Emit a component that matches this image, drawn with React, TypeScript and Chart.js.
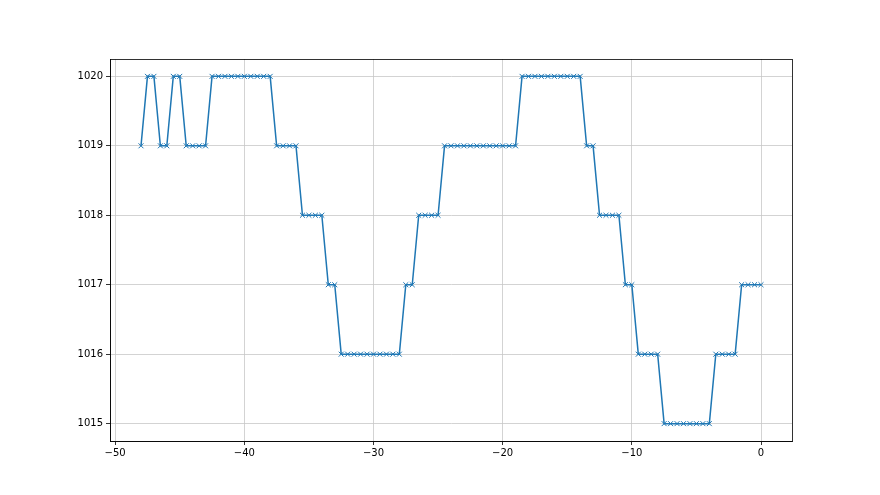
import React, { useEffect, useRef } from "react";
import { Chart, registerables } from "chart.js";

Chart.register(...registerables);

const xValues: number[] = [
  -48, -47.5, -47, -46.5, -46, -45.5, -45, -44.5, -44, -43.5, -43,
  -42.5, -42, -41.5, -41, -40.5, -40, -39.5, -39, -38.5, -38,
  -37.5, -37, -36.5, -36, -35.5, -35, -34.5, -34, -33.5, -33,
  -32.5, -32, -31.5, -31, -30.5, -30, -29.5, -29, -28.5, -28,
  -27.5, -27, -26.5, -26, -25.5, -25, -24.5, -24, -23.5, -23,
  -22.5, -22, -21.5, -21, -20.5, -20, -19.5, -19, -18.5, -18,
  -17.5, -17, -16.5, -16, -15.5, -15, -14.5, -14, -13.5, -13,
  -12.5, -12, -11.5, -11, -10.5, -10, -9.5, -9, -8.5, -8,
  -7.5, -7, -6.5, -6, -5.5, -5, -4.5, -4, -3.5, -3,
  -2.5, -2, -1.5, -1, -0.5, 0,
];

const pressure: number[] = [
  1019, 1020, 1020, 1019, 1019, 1020, 1020, 1019, 1019, 1019, 1019,
  1020, 1020, 1020, 1020, 1020, 1020, 1020, 1020, 1020, 1020,
  1019, 1019, 1019, 1019, 1018, 1018, 1018, 1018, 1017, 1017,
  1016, 1016, 1016, 1016, 1016, 1016, 1016, 1016, 1016, 1016,
  1017, 1017, 1018, 1018, 1018, 1018, 1019, 1019, 1019, 1019,
  1019, 1019, 1019, 1019, 1019, 1019, 1019, 1019, 1020, 1020,
  1020, 1020, 1020, 1020, 1020, 1020, 1020, 1020, 1019, 1019,
  1018, 1018, 1018, 1018, 1017, 1017, 1016, 1016, 1016, 1016,
  1015, 1015, 1015, 1015, 1015, 1015, 1015, 1015, 1016, 1016,
  1016, 1016, 1017, 1017, 1017, 1017,
];

const xTicks: number[] = [-50, -40, -30, -20, -10, 0];
const yTicks: number[] = [1015, 1016, 1017, 1018, 1019, 1020];

const frame = {
  id: "frame",
  afterDraw(chart: any) {
    const { ctx, chartArea } = chart;
    ctx.save();
    ctx.strokeStyle = "#000000";
    ctx.lineWidth = 0.8;
    ctx.strokeRect(
      Math.round(chartArea.left) + 0.5,
      Math.round(chartArea.top) + 0.5,
      Math.round(chartArea.right - chartArea.left),
      Math.round(chartArea.bottom - chartArea.top)
    );
    ctx.restore();
  },
};

export default function App() {
  const ref = useRef<HTMLCanvasElement | null>(null);

  useEffect(() => {
    document.body.style.margin = "0";
    const canvas = ref.current;
    if (!canvas) return;
    const data = xValues.map((x, i) => ({ x, y: pressure[i] }));
    const tickFont = { family: "DejaVu Sans", size: 10 };
    const chart = new Chart(canvas, {
      type: "line",
      data: {
        datasets: [
          {
            data,
            borderColor: "#1f77b4",
            backgroundColor: "#1f77b4",
            borderWidth: 1.5,
            pointStyle: "crossRot",
            pointRadius: 3.5,
            pointBorderWidth: 1,
            pointBorderColor: "#1f77b4",
            pointHoverRadius: 3.5,
            tension: 0,
            fill: false,
          },
        ],
      },
      options: {
        animation: false,
        responsive: false,
        maintainAspectRatio: false,
        events: [],
        layout: { padding: { left: 0, right: 88, top: 59, bottom: 0 } },
        plugins: {
          legend: { display: false },
          tooltip: { enabled: false },
        },
        scales: {
          x: {
            type: "linear",
            min: -50.4,
            max: 2.4,
            afterBuildTicks: (scale: any) => {
              scale.ticks = xTicks.map((v) => ({ value: v }));
            },
            afterFit: (scale: any) => {
              scale.height = 54;
            },
            grid: {
              color: "#c8c8c8",
              lineWidth: 0.8,
              tickColor: "#000000",
              tickLength: 4,
              drawTicks: true,
            },
            border: { display: true, color: "#000000", width: 0.8 },
            ticks: {
              color: "#000000",
              font: tickFont,
              padding: 2,
              maxRotation: 0,
              callback: (v: any) => (Number(v) < 0 ? "\u2212" + Math.abs(Number(v)) : String(v)),
            },
          },
          y: {
            type: "linear",
            min: 1014.75,
            max: 1020.25,
            afterBuildTicks: (scale: any) => {
              scale.ticks = yTicks.map((v) => ({ value: v }));
            },
            afterFit: (scale: any) => {
              scale.width = 110;
            },
            grid: {
              color: "#c8c8c8",
              lineWidth: 0.8,
              tickColor: "#000000",
              tickLength: 4,
              drawTicks: true,
            },
            border: { display: true, color: "#000000", width: 0.8 },
            ticks: {
              color: "#000000",
              font: tickFont,
              padding: 3,
              callback: (v: any) => String(v),
            },
          },
        },
      },
      plugins: [frame],
    });
    return () => chart.destroy();
  }, []);

  return (
    <div style={{ width: 880, height: 495 }}>
      <canvas ref={ref} width={880} height={495} style={{ display: "block", width: 880, height: 495 }} />
    </div>
  );
}
